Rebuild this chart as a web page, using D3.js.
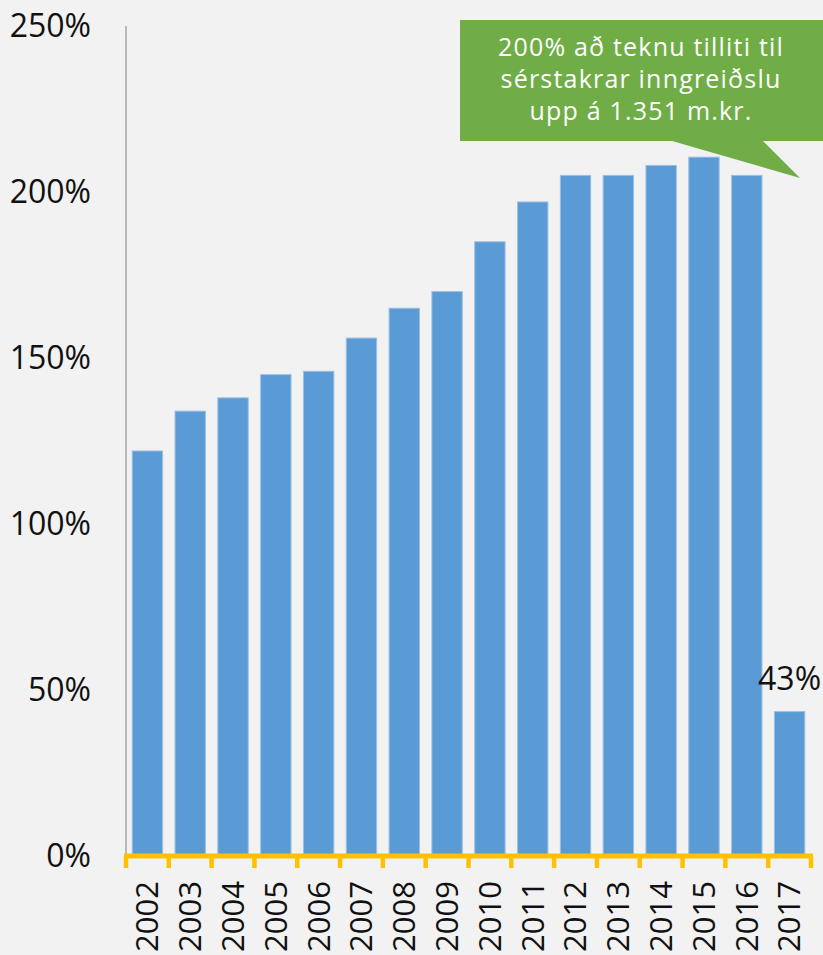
<!DOCTYPE html>
<html>
<head>
<meta charset="utf-8">
<script src="https://cdn.jsdelivr.net/npm/d3@7"></script>
<style>
  body { margin: 0; background: #f2f2f2; }
  svg { display: block; }
</style>
</head>
<body>
<div id="chart"></div>
<script>
//chart data
const years = ["2002", "2003", "2004", "2005", "2006", "2007", "2008", "2009",
               "2010", "2011", "2012", "2013", "2014", "2015", "2016", "2017"];
const values = [122, 134, 138, 145, 146, 156, 165, 170,
                185, 197, 205, 205, 208, 210.5, 205, 43.5];
const yTicks = [0, 50, 100, 150, 200, 250];
const lastLabel = "43%";
const calloutLines = ["200% að teknu tilliti til", "sérstakrar inngreiðslu", "upp á 1.351 m.kr."];

const width = 823;
const height = 955;
const marginLeft = 126;
const marginRight = 12;
const marginTop = 26;
const axisY = 856;

const data = years.map((y, i) => ({ year: y, value: values[i] }));

const svg = d3.select("#chart").append("svg")
    .attr("width", width)
    .attr("height", height)
    .style("background", "#f2f2f2");

//scales
const x = d3.scaleBand(years, [marginLeft, width - marginRight])
    .paddingInner(0.29)
    .paddingOuter(0.145);

const y = d3.scaleLinear([0, 250], [axisY, marginTop]);

//y axis line and labels
svg.append("line")
    .attr("x1", marginLeft).attr("x2", marginLeft)
    .attr("y1", y(250)).attr("y2", axisY)
    .attr("stroke", "#a6a6a6")
    .attr("stroke-width", 1.5);

svg.append("g")
    .attr("font-family", "'Open Sans', sans-serif")
    .attr("font-size", 32)
    .attr("fill", "#111")
    .attr("text-anchor", "end")
    .selectAll("text")
    .data(yTicks)
    .join("text")
    .attr("x", 91)
    .attr("y", d => y(d))
    .attr("dy", "0.35em")
    .text(d => d + "%");

//bars
svg.append("g")
    .selectAll("rect")
    .data(data)
    .join("rect")
    .attr("x", d => x(d.year))
    .attr("y", d => y(d.value))
    .attr("width", x.bandwidth())
    .attr("height", d => axisY - y(d.value))
    .attr("fill", "#5b9bd5")
    .attr("stroke", "#9dc0e4")
    .attr("stroke-width", 1);

//label for last bar
const last = data[data.length - 1];
svg.append("text")
    .attr("x", x(last.year) + x.bandwidth() / 2)
    .attr("y", y(last.value) - 22)
    .attr("text-anchor", "middle")
    .attr("font-family", "'Open Sans', sans-serif")
    .attr("font-size", 32)
    .attr("fill", "#111")
    .text(lastLabel);

//orange x axis with ticks between the bands
const step = x.step();
const tickX = d3.range(years.length + 1).map(i => marginLeft + i * step);

const xAxis = svg.append("g")
    .attr("stroke", "#ffc000");

xAxis.append("line")
    .attr("x1", marginLeft - 2).attr("x2", tickX[tickX.length - 1] + 2)
    .attr("y1", axisY).attr("y2", axisY)
    .attr("stroke-width", 5);

xAxis.selectAll("line.tick")
    .data(tickX)
    .join("line")
    .attr("class", "tick")
    .attr("x1", d => d).attr("x2", d => d)
    .attr("y1", axisY).attr("y2", axisY + 12)
    .attr("stroke-width", 4.5);

//rotated year labels
svg.append("g")
    .attr("font-family", "'Open Sans', sans-serif")
    .attr("font-size", 31)
    .attr("fill", "#111")
    .attr("text-anchor", "end")
    .selectAll("text")
    .data(years)
    .join("text")
    .attr("transform", d => `translate(${x(d) + x.bandwidth() / 2},881) rotate(-90)`)
    .attr("dy", "0.35em")
    .text(d => d);

//green callout box
const box = { left: 460, right: 823, top: 20, bottom: 141 };
svg.append("path")
    .attr("d", `M${box.left},${box.top}H${box.right}V${box.bottom}H763L800,178L672,${box.bottom}H${box.left}Z`)
    .attr("fill", "#70ad47");

svg.append("g")
    .attr("font-family", "'Open Sans', sans-serif")
    .attr("font-size", 25)
    .attr("letter-spacing", 1.2)
    .attr("fill", "#fff")
    .attr("text-anchor", "middle")
    .selectAll("text")
    .data(calloutLines)
    .join("text")
    .attr("x", 641)
    .attr("y", (d, i) => 56 + i * 32)
    .text(d => d);
</script>
</body>
</html>
